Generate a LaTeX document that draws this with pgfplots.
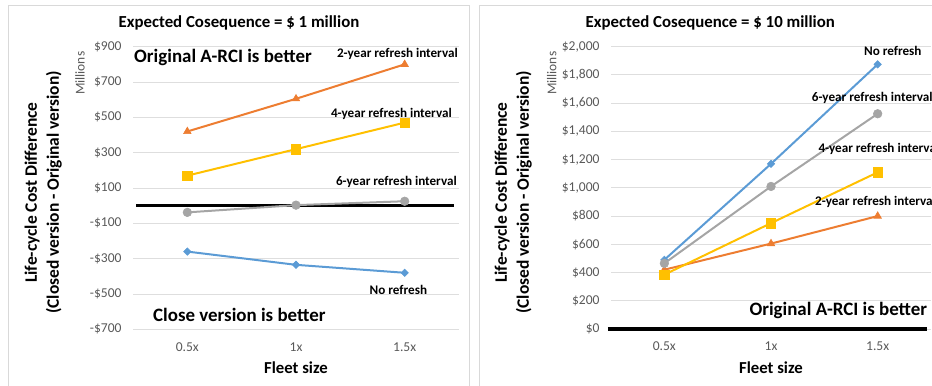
\documentclass[border=0pt]{standalone}
\usepackage{fontspec}
\setmainfont{Carlito}
\usepackage{pgfplots}
\pgfplotsset{compat=1.18}

\definecolor{sBlue}{HTML}{5B9BD5}
\definecolor{sOrange}{HTML}{ED7D31}
\definecolor{sGray}{HTML}{A5A5A5}
\definecolor{sYellow}{HTML}{FFC000}
\definecolor{gridc}{HTML}{DEDEDE}
\definecolor{framec}{HTML}{D9D9D9}
\definecolor{ticktext}{HTML}{595959}

\pgfplotsset{
  panel/.style={
    scale only axis, anchor=south west,
    height=282.6bp,
    xmin=-0.5, xmax=2.5, xtick={0,1,2}, xticklabels={0.5x,1x,1.5x},
    axis line style={draw=none}, major tick style={draw=none},
    ymajorgrids, grid style={gridc, line width=0.9bp},
    tick label style={font=\fontsize{13.6}{15}\selectfont, text=ticktext},
    /pgf/number format/assume math mode=true,
    xticklabel style={yshift=-9.5bp},
    yticklabel style={xshift=-8bp},
    clip=false,
  },
  nr/.style={sBlue, line width=2bp, mark=square*, mark size=2.6bp,
    mark options={rotate=45, solid, line width=0.6bp}},
  y2/.style={sOrange, line width=2bp, mark=triangle*, mark size=4.3bp,
    mark options={solid, line width=0.6bp}},
  y6/.style={sGray, line width=2bp, mark=*, mark size=4.3bp,
    mark options={solid, line width=0.6bp}},
  y4/.style={sYellow, line width=2bp, mark=square*, mark size=4.7bp,
    mark options={solid, line width=0.6bp}},
  zeroline/.style={black, line width=3.2bp, no marks},
}

\newcommand\titlefont{\fontsize{16.9}{19}\selectfont\bfseries}
\newcommand\notefont{\fontsize{19}{22}\selectfont\bfseries}
\newcommand\serfont{\fontsize{13.2}{15}\selectfont\bfseries}
\newcommand\axfont{\fontsize{17.5}{22}\selectfont\bfseries}
\newcommand\fleetfont{\fontsize{16.8}{20}\selectfont\bfseries}
\newcommand\unitfont{\fontsize{13.5}{16}\selectfont}

\begin{document}
\begin{tikzpicture}[x=1bp, y=1bp]
\useasboundingbox (0,0) rectangle (932,385);
\clip (0,0) rectangle (932,385);

% chart area frames
\draw[framec, line width=1bp] (8.3,-5) rectangle (469.3,379.3);
\draw[framec, line width=1bp] (479.3,-5) -- (479.3,379.3) -- (940,379.3);

% ---- left: expected consequence $1 million
\begin{axis}[panel, at={(133bp,55.7bp)}, width=326bp,
  ymin=-700, ymax=900, ytick={-700,-500,...,900},
  yticklabels={-\$700,-\$500,-\$300,-\$100,\$100,\$300,\$500,\$700,\$900}]
  \addplot[zeroline] coordinates {(-0.47,0) (2.45,0)};
  \addplot[nr] coordinates {(0,-260) (1,-335) (2,-380)};
  \addplot[y2] coordinates {(0,420) (1,605) (2,800)};
  \addplot[y6] coordinates {(0,-38) (1,3) (2,25)};
  \addplot[y4] coordinates {(0,170) (1,320) (2,470)};
\end{axis}

\node[font=\titlefont] at (239,361.7) {Expected Cosequence = \$ 1 million};
\node[font=\notefont, anchor=west, inner sep=0] at (134,327.3) {Original A-RCI is better};
\node[font=\notefont, anchor=west, inner sep=0] at (153,69.7) {Close version is better};
\node[font=\serfont, anchor=east, inner sep=0] at (458,330.7) {2-year refresh interval};
\node[font=\serfont, anchor=east, inner sep=0] at (452,271.3) {4-year refresh interval};
\node[font=\serfont, anchor=east, inner sep=0] at (457,203.3) {6-year refresh interval};
\node[font=\serfont, anchor=east, inner sep=0] at (427.3,95) {No refresh};
\node[font=\unitfont, text=ticktext, rotate=90] at (80,311.7) {Millions};
\node[font=\axfont, rotate=90, align=center] at (43.3,192.5)
  {Life-cycle Cost Difference\\(Closed version - Original version)};
\node[font=\fleetfont] at (296,17.7) {Fleet size};

% ---- right: expected consequence $10 million
\begin{axis}[panel, at={(611bp,56bp)}, width=320bp, height=282.3bp,
  ymin=0, ymax=2000, ytick={0,200,...,2000},
  yticklabels={\$0,\$200,\$400,\$600,\$800,\$1{,}000,\$1{,}200,\$1{,}400,\$1{,}600,\$1{,}800,\$2{,}000}]
  \addplot[zeroline] coordinates {(-0.53,0) (2.46,0)};
  \addplot[nr] coordinates {(0,490) (1,1170) (2,1875)};
  \addplot[y2] coordinates {(0,420) (1,605) (2,800)};
  \addplot[y6] coordinates {(0,465) (1,1010) (2,1525)};
  \addplot[y4] coordinates {(0,385) (1,750) (2,1110)};
\end{axis}

\node[font=\titlefont] at (710.3,361.7) {Expected Cosequence = \$ 10 million};
\node[font=\serfont, anchor=east, inner sep=0] at (921.7,334) {No refresh};
\node[font=\serfont, anchor=west, inner sep=0] at (811.7,286.7) {6-year refresh interval};
\node[font=\serfont, anchor=west, inner sep=0] at (818.3,236) {4-year refresh interval};
\node[font=\serfont, anchor=west, inner sep=0] at (815,183.3) {2-year refresh interval};
\node[font=\notefont, anchor=west, inner sep=0] at (749.3,74.3) {Original A-RCI is better};
\node[font=\unitfont, text=ticktext, rotate=90] at (551.7,311.7) {Millions};
\node[font=\axfont, rotate=90, align=center] at (513.3,192.5)
  {Life-cycle Cost Difference\\(Closed version - Original version)};
\node[font=\fleetfont] at (771,17.7) {Fleet size};
\end{tikzpicture}
\end{document}
